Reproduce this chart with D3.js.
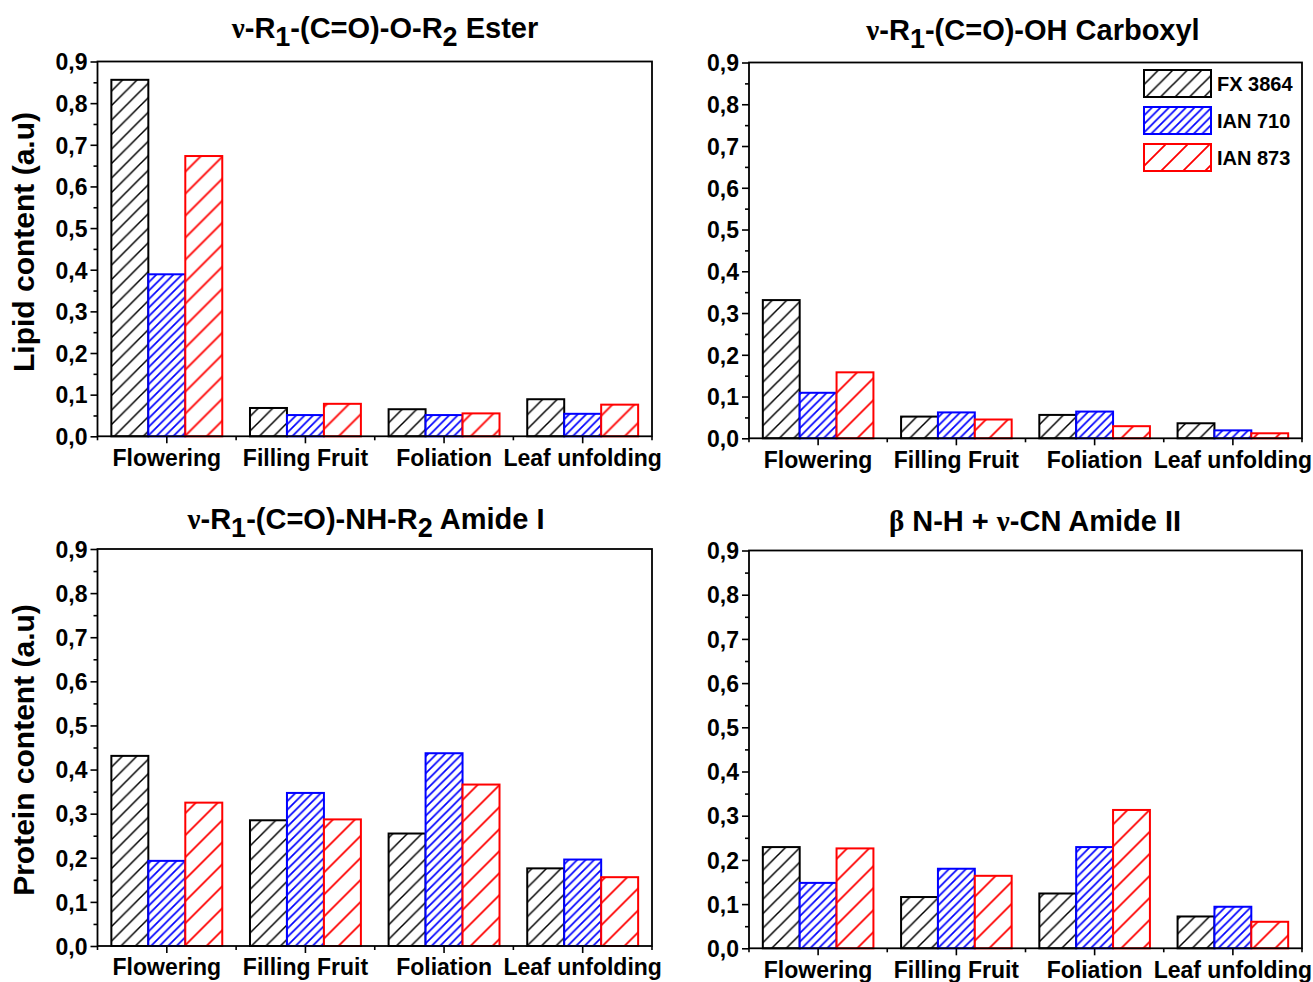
<!DOCTYPE html>
<html>
<head>
<meta charset="utf-8">
<script src="https://cdn.jsdelivr.net/npm/d3@7"></script>
<style>
  body { margin: 0; background: #fff; }
  svg text { font-family: "Liberation Sans", Arial, sans-serif; font-weight: bold; fill: #000; }
</style>
</head>
<body>
<svg id="chart" width="1313" height="982"></svg>
<script>
// Growth stages on the x axis and the three clones
const categories = ["Flowering", "Filling Fruit", "Foliation", "Leaf unfolding"];
const seriesNames = ["FX 3864", "IAN 710", "IAN 873"];
const yTickValues = [0, 0.1, 0.2, 0.3, 0.4, 0.5, 0.6, 0.7, 0.8, 0.9];
const yMinorValues = [0.05, 0.15, 0.25, 0.35, 0.45, 0.55, 0.65, 0.75, 0.85];

// Ester band
const esterFX3864 = [0.856, 0.068, 0.065, 0.089];
const esterIAN710 = [0.389, 0.051, 0.051, 0.054];
const esterIAN873 = [0.673, 0.078, 0.055, 0.076];
// Carboxyl band
const carboxylFX3864 = [0.331, 0.052, 0.056, 0.036];
const carboxylIAN710 = [0.109, 0.062, 0.064, 0.019];
const carboxylIAN873 = [0.158, 0.045, 0.029, 0.012];
// Amide I band
const amide1FX3864 = [0.431, 0.285, 0.255, 0.176];
const amide1IAN710 = [0.193, 0.347, 0.437, 0.196];
const amide1IAN873 = [0.325, 0.287, 0.366, 0.156];
// Amide II band
const amide2FX3864 = [0.229, 0.116, 0.124, 0.072];
const amide2IAN710 = [0.148, 0.180, 0.229, 0.094];
const amide2IAN873 = [0.226, 0.164, 0.313, 0.060];

const seriesStyle = [
  { color: "#000000", spacing: 14.5, width: 1.5 },
  { color: "#0000ff", spacing: 8.5,  width: 1.7 },
  { color: "#ff0000", spacing: 22,   width: 1.8 }
];

const panels = [
  { left: 97.5, right: 652, top: 61.5, bottom: 436.3,
    title: [["ν", "g"], ["-R"], ["1", "s"], ["-(C=O)-O-R"], ["2", "s"], [" Ester"]],
    titleX: 385, titleY: 38,
    ylabel: "Lipid content (a.u)", ylabelY: 242,
    series: [esterFX3864, esterIAN710, esterIAN873], legend: false },
  { left: 749, right: 1302, top: 62.5, bottom: 438.3,
    title: [["ν", "g"], ["-R"], ["1", "s"], ["-(C=O)-OH Carboxyl"]],
    titleX: 1033, titleY: 40,
    ylabel: null,
    series: [carboxylFX3864, carboxylIAN710, carboxylIAN873], legend: true },
  { left: 97.5, right: 652, top: 549, bottom: 946,
    title: [["ν", "g"], ["-R"], ["1", "s"], ["-(C=O)-NH-R"], ["2", "s"], [" Amide I"]],
    titleX: 366, titleY: 529,
    ylabel: "Protein content (a.u)", ylabelY: 750,
    series: [amide1FX3864, amide1IAN710, amide1IAN873], legend: false },
  { left: 749, right: 1302, top: 550.5, bottom: 948.3,
    title: [["β", "g"], [" N-H + "], ["ν", "g"], ["-CN Amide II"]],
    titleX: 1035, titleY: 531,
    ylabel: null,
    series: [amide2FX3864, amide2IAN710, amide2IAN873], legend: false }
];

const svg = d3.select("#chart");
const locale = d3.formatLocale({ decimal: ",", thousands: ".", grouping: [3], currency: ["", ""] });
const fmt = locale.format(".1f");

// Diagonal hatch patterns, one per clone
const defs = svg.append("defs");
seriesStyle.forEach((st, i) => {
  const s = st.spacing;
  const p = defs.append("pattern")
    .attr("id", "hatch" + i)
    .attr("patternUnits", "userSpaceOnUse")
    .attr("width", s).attr("height", s);
  p.append("rect").attr("width", s).attr("height", s).attr("fill", "#fff");
  p.append("path")
    .attr("d", `M0,${s} L${s},0 M${-s / 2},${s / 2} L${s / 2},${-s / 2} M${s / 2},${1.5 * s} L${1.5 * s},${s / 2}`)
    .attr("stroke", st.color)
    .attr("stroke-width", st.width)
    .attr("fill", "none");
});

panels.forEach(pn => {
  const w = pn.right - pn.left;
  const h = pn.bottom - pn.top;
  const g = svg.append("g").attr("transform", `translate(${pn.left},${pn.top})`);

  const x0 = d3.scaleBand().domain(categories).range([0, w]).padding(0);
  const bw = x0.bandwidth();
  const x1 = d3.scaleBand().domain(seriesNames).range([bw * 0.1, bw * 0.9]).padding(0);
  const y = d3.scaleLinear().domain([0, 0.9]).range([h, 0]);

  // bars
  pn.series.forEach((vals, si) => {
    g.append("g").selectAll("rect")
      .data(vals)
      .join("rect")
      .attr("x", (d, ci) => x0(categories[ci]) + x1(seriesNames[si]))
      .attr("y", d => y(d))
      .attr("width", x1.bandwidth())
      .attr("height", d => y(0) - y(d))
      .attr("fill", `url(#hatch${si})`)
      .attr("stroke", seriesStyle[si].color)
      .attr("stroke-width", 2);
  });

  // frame
  g.append("rect")
    .attr("x", 0).attr("y", 0).attr("width", w).attr("height", h)
    .attr("fill", "none").attr("stroke", "#000").attr("stroke-width", 1.8);

  // y axis: major and minor ticks
  const yAxis = g.append("g")
    .call(d3.axisLeft(y).tickValues(yTickValues).tickSize(7).tickPadding(3).tickFormat(fmt));
  yAxis.select(".domain").remove();
  yAxis.selectAll("line").attr("stroke-width", 1.6);
  yAxis.selectAll("text").style("font-size", "23px").attr("dy", "0.36em");

  const yMinor = g.append("g")
    .call(d3.axisLeft(y).tickValues(yMinorValues).tickSize(4).tickFormat(""));
  yMinor.select(".domain").remove();
  yMinor.selectAll("line").attr("stroke-width", 1.6);

  // x axis: ticks at category centres, short ticks at group boundaries
  const xAxis = g.append("g")
    .attr("transform", `translate(0,${h})`)
    .call(d3.axisBottom(x0).tickSize(7).tickPadding(6));
  xAxis.select(".domain").remove();
  xAxis.selectAll("line").attr("stroke-width", 1.6);
  xAxis.selectAll("text").style("font-size", "23px");

  const edges = d3.range(categories.length + 1).map(i => i * bw);
  g.append("g").selectAll("line")
    .data(edges)
    .join("line")
    .attr("x1", d => d).attr("x2", d => d)
    .attr("y1", h).attr("y2", h + 4)
    .attr("stroke", "#000").attr("stroke-width", 1.6);

  // title
  const t = svg.append("text")
    .attr("x", pn.titleX).attr("y", pn.titleY)
    .attr("text-anchor", "middle")
    .style("font-size", "29px");
  let shifted = false;
  pn.title.forEach(([txt, kind]) => {
    const ts = t.append("tspan").text(txt);
    if (kind === "s") {
      ts.attr("dy", 8).style("font-size", "27px");
      shifted = true;
    } else {
      if (shifted) { ts.attr("dy", -8); shifted = false; }
      if (kind === "g") ts.style("font-family", "'Liberation Serif', 'Times New Roman', serif");
    }
  });

  // y axis label
  if (pn.ylabel) {
    svg.append("text")
      .attr("transform", `translate(34,${pn.ylabelY}) rotate(-90)`)
      .attr("text-anchor", "middle")
      .style("font-size", "30px")
      .text(pn.ylabel);
  }

  // legend
  if (pn.legend) {
    const lg = svg.append("g").attr("transform", "translate(1144,70)");
    seriesNames.forEach((name, i) => {
      const row = lg.append("g").attr("transform", `translate(0,${i * 37})`);
      row.append("rect")
        .attr("width", 67).attr("height", 27)
        .attr("fill", `url(#hatch${i})`)
        .attr("stroke", seriesStyle[i].color)
        .attr("stroke-width", 2);
      row.append("text")
        .attr("x", 73).attr("y", 21)
        .style("font-size", "20px")
        .text(name);
    });
  }
});
</script>
</body>
</html>
